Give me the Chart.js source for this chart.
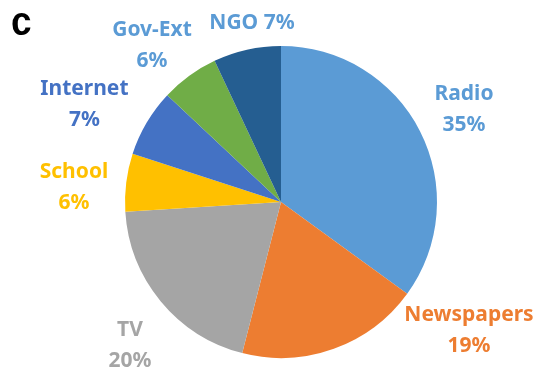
<!DOCTYPE html>
<html>
<head>
<meta charset="utf-8">
<script src="https://cdn.jsdelivr.net/npm/chart.js@4.4.1/dist/chart.umd.min.js"></script>
<style>
  html, body { margin: 0; padding: 0; background: #fff; }
  #wrap { width: 538px; height: 372px; position: relative; }
</style>
</head>
<body>
<div id="wrap"><canvas id="graficoFuentes"></canvas></div>
<script>
// Fuentes de informacion (%)
const categorias = ['Radio', 'Newspapers', 'TV', 'School', 'Internet', 'Gov-Ext', 'NGO'];
const porcentajes = [35, 19, 20, 6, 7, 6, 7];
const coloresSector = ['#5B9BD5', '#ED7D31', '#A5A5A5', '#FFC000', '#4472C4', '#70AD47', '#255E91'];
const coloresEtiqueta = ['#5B9BD5', '#ED7D31', '#A5A5A5', '#FFC000', '#4472C4', '#5B9BD5', '#5B9BD5'];

// posicion de cada etiqueta respecto al centro, en radios
const posEtiquetas = [
    { dx: 1.173, dy: -0.596 },
    { dx: 1.205, dy: 0.821 },
    { dx: -0.968, dy: 0.923 },
    { dx: -1.327, dy: -0.093 },
    { dx: -1.26, dy: -0.625 },
    { dx: -0.827, dy: -1.0 },
    { dx: -0.186, dy: -1.147, unaLinea: true }
];

const etiquetasPlugin = {
    id: 'etiquetas',
    afterDatasetsDraw(chart) {
        const ctx = chart.ctx;
        const arcos = chart.getDatasetMeta(0).data;
        ctx.save();
        ctx.font = 'bold 21px "Noto Sans"';
        ctx.textAlign = 'center';
        ctx.textBaseline = 'middle';
        arcos.forEach((arco, i) => {
            const p = posEtiquetas[i];
            const r = arco.outerRadius;
            const x = arco.x + p.dx * r;
            const y = arco.y + p.dy * r;
            const valor = chart.data.datasets[0].data[i] + '%';
            ctx.fillStyle = coloresEtiqueta[i];
            if (p.unaLinea) {
                ctx.fillText(categorias[i] + ' ' + valor, x, y);
            } else {
                ctx.fillText(categorias[i], x, y - 15.5);
                ctx.fillText(valor, x, y + 15.5);
            }
        });

        // letra del panel
        ctx.fillStyle = '#000';
        ctx.font = 'bold 41px "Liberation Sans"';
        ctx.textAlign = 'left';
        ctx.textBaseline = 'alphabetic';
        ctx.translate(11, 35);
        ctx.scale(0.9, 1);
        ctx.fillText('c', 0, 0);
        ctx.restore();
    }
};

new Chart(document.querySelector('#graficoFuentes'), {
    type: 'pie',
    data: {
        labels: categorias,
        datasets: [{
            data: porcentajes,
            backgroundColor: coloresSector,
            borderWidth: 0
        }]
    },
    options: {
        responsive: true,
        maintainAspectRatio: false,
        animation: false,
        layout: { padding: { left: 24, right: 0, top: 46, bottom: 14 } },
        plugins: {
            legend: { display: false },
            tooltip: { enabled: false }
        }
    },
    plugins: [etiquetasPlugin]
});
</script>
</body>
</html>
